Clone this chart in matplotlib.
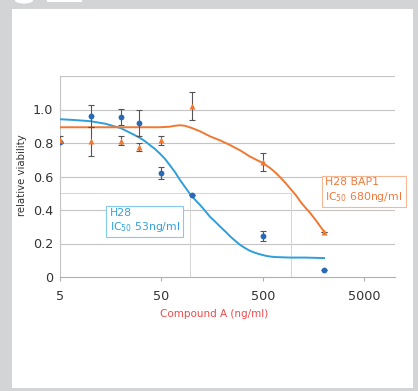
import matplotlib
matplotlib.use("Agg")
import matplotlib.pyplot as plt
from matplotlib.patches import Rectangle, Ellipse

# ---- data ----
conc = [5, 10, 20, 30, 50, 100, 500, 2000]
h28_vals = [0.805, 0.96, 0.955, 0.92, 0.62, 0.49, 0.245, 0.042]
h28_err = [0.0, 0.065, 0.048, 0.08, 0.035, 0.0, 0.03, 0.0]
bap1_vals = [0.82, 0.81, 0.814, 0.777, 0.815, 1.02, 0.685, 0.268]
bap1_err = [0.02, 0.085, 0.025, 0.025, 0.025, 0.083, 0.053, 0.0]

h28_fit_x = [5, 7, 10, 14, 17, 20, 24, 30, 34, 38, 43, 48, 54, 60, 68, 76, 86, 97,
             108, 120, 135, 150, 170, 190, 215, 240, 270, 300, 335, 370, 420, 470,
             530, 590, 660, 740, 930, 1300, 2000]
h28_fit_y = [0.942, 0.937, 0.930, 0.915, 0.900, 0.888, 0.864, 0.834, 0.813, 0.790,
             0.765, 0.738, 0.706, 0.670, 0.626, 0.580, 0.534, 0.490, 0.459, 0.430,
             0.394, 0.360, 0.329, 0.300, 0.269, 0.240, 0.213, 0.190, 0.172, 0.157,
             0.144, 0.135, 0.127, 0.122, 0.119, 0.118, 0.116, 0.116, 0.113]
bap1_fit_x = [5, 48, 60, 68, 76, 85, 97, 120, 150, 190, 240, 300, 370, 430, 500, 590,
              660, 740, 830, 930, 1050, 1170, 1300, 1470, 1700, 2000]
bap1_fit_y = [0.894, 0.894, 0.897, 0.903, 0.906, 0.903, 0.892, 0.870, 0.840, 0.815,
              0.786, 0.755, 0.720, 0.700, 0.680, 0.650, 0.625, 0.595, 0.563, 0.527,
              0.490, 0.450, 0.416, 0.380, 0.330, 0.270]

ic50_h28_x = 96
ic50_bap1_x = 950
half = 0.5

xticks = [5, 50, 500, 5000]
xticklabels = ["5", "50", "500", "5000"]
yticks = [0, 0.2, 0.4, 0.6, 0.8, 1.0]
yticklabels = ["0", "0.2", "0.4", "0.6", "0.8", "1.0"]

W, H = 418, 391
fig = plt.figure(figsize=(W / 100, H / 100), dpi=100)
fig.patch.set_facecolor("#d3d4d6")
# white panel
fig.patches.append(Rectangle((12 / W, 3 / H), 401 / W, (H - 8.7 - 3) / H,
                             transform=fig.transFigure, facecolor="white",
                             edgecolor="none", zorder=0))
fig.patches.append(Ellipse((24 / W, (H - 0.5) / H), 18 / W, 6 / H, transform=fig.transFigure,
                           facecolor="white", edgecolor="none", zorder=0))
fig.patches.append(Rectangle((47 / W, (H - 2) / H), 35 / W, 2 / H,
                             transform=fig.transFigure, facecolor="white",
                             edgecolor="none", zorder=0))

ax = fig.add_axes([60 / W, (H - 277) / H, 335 / W, 201 / H])
ax.set_zorder(2)
ax.set_facecolor("none")
ax.set_xscale("log")
ax.set_xlim(5, 10000)
ax.set_ylim(0, 1.2)

grid_c = "#c4c4c4"
for yv in [0.2, 0.4, 0.6, 0.8, 1.0, 1.2]:
    ax.axhline(yv, color=grid_c, lw=0.8, zorder=1)

# IC50 guide lines
ax.plot([5, ic50_bap1_x], [half, half], color="#d6d6d6", lw=0.7, zorder=1)
ax.plot([ic50_h28_x, ic50_h28_x], [0, half], color="#d6d6d6", lw=0.7, zorder=1)
ax.plot([ic50_bap1_x, ic50_bap1_x], [0, half], color="#d6d6d6", lw=0.7, zorder=1)

blue_line = "#2e9fdb"
blue_dot = "#2a69b6"
orange = "#f07832"

ax.plot(h28_fit_x, h28_fit_y, color=blue_line, lw=1.4, zorder=3,
        solid_joinstyle="round")
ax.plot(bap1_fit_x, bap1_fit_y, color=orange, lw=1.4, zorder=3,
        solid_joinstyle="round")

ax.errorbar(conc, h28_vals, yerr=h28_err, fmt="none", ecolor="#555555",
            elinewidth=0.8, capsize=2, capthick=0.8, zorder=4)
ax.errorbar(conc, bap1_vals, yerr=bap1_err, fmt="none", ecolor="#555555",
            elinewidth=0.8, capsize=2, capthick=0.8, zorder=4)
ax.plot(conc, h28_vals, "o", color=blue_dot, ms=4.2, mec="none", zorder=5)
ax.plot(conc, bap1_vals, "^", color=orange, ms=5, mec="none", zorder=6)

for s in ["top", "right"]:
    ax.spines[s].set_visible(False)
ax.spines["left"].set_color("#c4c4c4")
ax.spines["bottom"].set_color("#b0b0b0")
ax.spines["left"].set_linewidth(0.8)
ax.spines["bottom"].set_linewidth(0.8)

ax.set_xticks(xticks)
ax.set_xticklabels(xticklabels)
ax.xaxis.set_minor_locator(matplotlib.ticker.NullLocator())
ax.set_yticks(yticks)
ax.set_yticklabels(yticklabels)
ax.tick_params(axis="x", length=3, color="#b0b0b0", labelsize=9.2,
               labelcolor="#333333", pad=6)
ax.tick_params(axis="y", length=0, labelsize=9.2, labelcolor="#333333", pad=5)

fig.text(22 / W, (H - 175) / H, "relative viability", rotation=90,
         ha="center", va="center", fontsize=7.3, color="#333333", zorder=3)
fig.text(214 / W, (H - 314) / H, "Compound A (ng/ml)", ha="center", va="center",
         fontsize=7.5, color="#ee4b4b", zorder=3)

ax.text(15.4, 0.335, "H28\nIC$_{\\mathregular{50}}$ 53ng/ml", fontsize=7.8,
        color="#34a0dc", va="center", ha="left", linespacing=1.25,
        bbox=dict(boxstyle="square,pad=0.3", fc="white", ec="#84c9ee", lw=0.8),
        zorder=7)
ax.text(2050, 0.515, "H28 BAP1\nIC$_{\\mathregular{50}}$ 680ng/ml", fontsize=7.8,
        color="#f07a3e", va="center", ha="left", linespacing=1.25,
        bbox=dict(boxstyle="square,pad=0.3", fc="white", ec="#f6b894", lw=0.8),
        zorder=7)

fig.savefig("out.png", dpi=100, facecolor=fig.get_facecolor())
